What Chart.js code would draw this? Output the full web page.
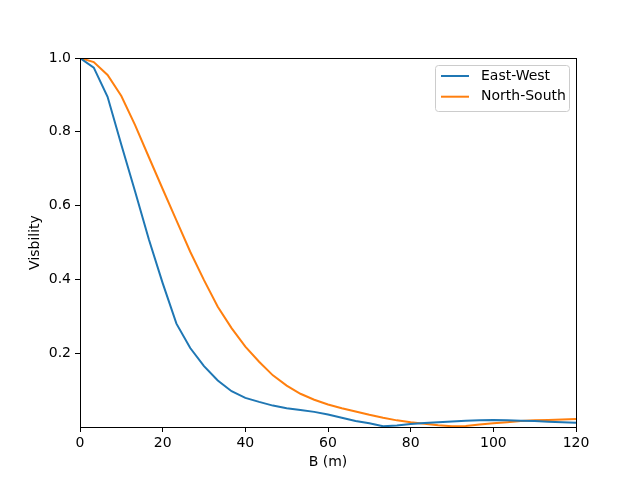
<!DOCTYPE html>
<html>
<head>
<meta charset="utf-8">
<script src="https://cdn.jsdelivr.net/npm/chart.js@4"></script>
<style>
  html, body { margin: 0; padding: 0; background: #fff; }
  #wrap { width: 640px; height: 480px; }
</style>
</head>
<body>
<div id="wrap"><canvas id="chart" width="640" height="480"></canvas></div>
<script>
// baseline lengths (m), sampled every 10/3 m
const baselines = [0, 3.33, 6.67, 10, 13.33, 16.67, 20, 23.33, 26.67, 30, 33.33, 36.67, 40, 43.33, 46.67,
    50, 53.33, 56.67, 60, 63.33, 66.67, 70, 73.33, 76.67, 80, 83.33, 86.67, 90, 93.33, 96.67,
    100, 103.33, 106.67, 110, 113.33, 116.67, 120];

const eastWest = [1.0, 0.974, 0.895, 0.765, 0.638, 0.508, 0.39, 0.28, 0.214, 0.165, 0.126, 0.097, 0.079,
    0.068, 0.058, 0.051, 0.046, 0.041, 0.034, 0.025, 0.016, 0.010, 0.002, 0.004, 0.008, 0.011,
    0.013, 0.015, 0.017, 0.018, 0.019, 0.018, 0.017, 0.016, 0.0145, 0.013, 0.0117];

const northSouth = [1.0, 0.989, 0.954, 0.897, 0.818, 0.731, 0.645, 0.56, 0.475, 0.398, 0.326, 0.268, 0.218,
    0.177, 0.140, 0.112, 0.090, 0.074, 0.061, 0.051, 0.042, 0.033, 0.025, 0.018, 0.013, 0.009,
    0.005, 0.002, 0.003, 0.007, 0.010, 0.013, 0.016, 0.018, 0.019, 0.020, 0.0217];

const xTicks = [0, 20, 40, 60, 80, 100, 120];
const yTicks = [0.2, 0.4, 0.6, 0.8, 1.0];

const seriesLabels = ['East-West', 'North-South'];
const seriesColors = ['#1f77b4', '#ff7f0e'];

const font = { family: 'DejaVu Sans', size: 14 };

const toPoints = (vals) => vals.map((v, i) => ({ x: baselines[i], y: v }));

// matplotlib-like frame on all four sides
const framePlugin = {
    id: 'frame',
    afterDatasetsDraw(chart) {
        const { ctx, chartArea: a } = chart;
        ctx.save();
        ctx.strokeStyle = '#000';
        ctx.lineWidth = 1;
        ctx.strokeRect(Math.round(a.left) + 0.5, Math.round(a.top) + 0.5,
            Math.round(a.right - a.left), Math.round(a.bottom - a.top));
        ctx.restore();
    }
};

// legend box in the upper right corner
const legendPlugin = {
    id: 'boxLegend',
    afterDraw(chart) {
        const { ctx, chartArea: a } = chart;
        const boxW = 134, boxH = 46;
        const x0 = a.right - 7 - boxW, y0 = a.top + 7;
        ctx.save();
        ctx.beginPath();
        ctx.roundRect(x0 + 0.5, y0 + 0.5, boxW, boxH, 3);
        ctx.fillStyle = 'rgba(255,255,255,0.8)';
        ctx.fill();
        ctx.strokeStyle = '#cccccc';
        ctx.lineWidth = 1;
        ctx.stroke();
        ctx.font = '14px "DejaVu Sans"';
        ctx.textBaseline = 'middle';
        ctx.fillStyle = '#000';
        chart.data.datasets.forEach((ds, i) => {
            const y = y0 + 11 + i * 20.7;
            ctx.beginPath();
            ctx.moveTo(x0 + 6, y);
            ctx.lineTo(x0 + 34, y);
            ctx.strokeStyle = ds.borderColor;
            ctx.lineWidth = 2;
            ctx.stroke();
            ctx.fillText(ds.label, x0 + 46, y);
        });
        ctx.restore();
    }
};

new Chart(document.getElementById('chart').getContext('2d'), {
    type: 'line',
    data: {
        datasets: [{
            label: seriesLabels[0],
            data: toPoints(eastWest),
            borderColor: seriesColors[0],
            borderWidth: 2,
            pointRadius: 0,
            fill: false,
            tension: 0
        }, {
            label: seriesLabels[1],
            data: toPoints(northSouth),
            borderColor: seriesColors[1],
            borderWidth: 2,
            pointRadius: 0,
            fill: false,
            tension: 0
        }]
    },
    options: {
        responsive: false,
        animation: false,
        layout: { padding: { top: 58, right: 64, left: 0, bottom: 0 } },
        plugins: {
            legend: { display: false },
            tooltip: { enabled: false }
        },
        scales: {
            x: {
                type: 'linear',
                min: 0,
                max: 120,
                afterBuildTicks: (scale) => { scale.ticks = xTicks.map(v => ({ value: v })); },
                afterFit: (scale) => { scale.height = 53; },
                grid: { drawOnChartArea: false, drawTicks: true, tickLength: 5, color: '#000' },
                border: { display: false },
                ticks: { color: '#000', font: font, padding: 3, maxRotation: 0 },
                title: { display: true, text: 'B (m)', color: '#000', font: font, padding: { top: 0, bottom: 9 } }
            },
            y: {
                type: 'linear',
                min: 0,
                max: 1,
                afterBuildTicks: (scale) => { scale.ticks = yTicks.map(v => ({ value: v })); },
                afterFit: (scale) => { scale.width = 80; },
                grid: { drawOnChartArea: false, drawTicks: true, tickLength: 5, color: '#000' },
                border: { display: false },
                ticks: { color: '#000', font: font, padding: 4, callback: (v) => v.toFixed(1) },
                title: { display: true, text: 'Visbility', color: '#000', font: font, padding: { top: 27, bottom: 0 } }
            }
        }
    },
    plugins: [framePlugin, legendPlugin]
});
</script>
</body>
</html>
